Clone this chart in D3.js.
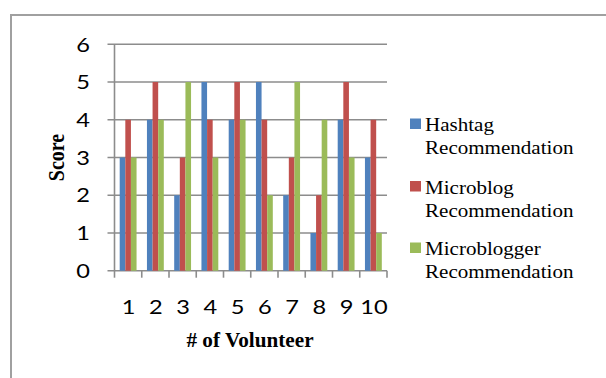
<!DOCTYPE html>
<html><head><meta charset="utf-8">
<script src="https://cdn.jsdelivr.net/npm/d3@7"></script>
<style>html,body{margin:0;padding:0;background:#fff;}svg{display:block;}</style>
</head><body>
<svg id="c" width="606" height="378"></svg>
<script>
const volunteers = ["1","2","3","4","5","6","7","8","9","10"];
const seriesNames = ["Hashtag Recommendation","Microblog Recommendation","Microblogger Recommendation"];
const hashtag = [3,4,2,5,4,5,2,1,4,3];
const microblog = [4,5,3,4,5,4,3,2,5,4];
const microblogger = [3,4,5,3,4,2,5,4,3,1];
const yTicks = [0,1,2,3,4,5,6];
const colors = ["#4F81BD","#C0504D","#9BBB59"];
const seriesValues = [hashtag, microblog, microblogger];

const svg = d3.select("#c");
svg.append("rect").attr("x",11).attr("y",15).attr("width",620).attr("height",400)
  .attr("fill","none").attr("stroke","#a0a0a0").attr("stroke-width",2);

const L = 114.5, R = 387, T = 44.3, B = 270.7;
const x0 = d3.scaleBand().domain(volunteers).range([L,R]).padding(0);
const bw = x0.bandwidth();
const x1 = d3.scaleBand().domain(d3.range(3)).range([5.2, bw-5.2]).padding(0);
const y = d3.scaleLinear().domain([0,6]).range([B,T]);

const gridC = "#8c8c8c";
svg.append("g").selectAll("line").data(yTicks).join("line")
  .attr("x1",L-7).attr("x2",R).attr("y1",d=>y(d)).attr("y2",d=>y(d))
  .attr("stroke",gridC).attr("stroke-width",1.6);

const rows = volunteers.map((v,i)=>({v, vals: seriesValues.map(s=>s[i])}));
const g = svg.append("g");
rows.forEach(r=>{
  r.vals.forEach((val,si)=>{
    g.append("rect")
      .attr("x", x0(r.v)+x1(si))
      .attr("width", x1.bandwidth())
      .attr("y", y(val))
      .attr("height", y(0)-y(val))
      .attr("fill", colors[si]);
  });
});

svg.append("line").attr("x1",L).attr("x2",L).attr("y1",T).attr("y2",B)
  .attr("stroke",gridC).attr("stroke-width",1.6);
const xt = volunteers.map(v=>x0(v)).concat([R]);
svg.append("g").selectAll("line").data(xt).join("line")
  .attr("x1",d=>d).attr("x2",d=>d).attr("y1",B).attr("y2",B+7)
  .attr("stroke",gridC).attr("stroke-width",1.6);

const numFont = "Lato, 'Open Sans', sans-serif";
svg.append("g").selectAll("text").data(yTicks).join("text")
  .attr("transform",d=>`translate(90,${y(d)}) scale(1.18,1)`).attr("dy","0.36em")
  .attr("text-anchor","end").attr("font-family",numFont)
  .attr("font-size",20).attr("fill","#000").text(d=>d);

svg.append("g").selectAll("text").data(volunteers).join("text")
  .attr("transform",d=>`translate(${x0(d)+bw/2+0.5},314) scale(1.18,1)`)
  .attr("text-anchor","middle").attr("font-family",numFont)
  .attr("font-size",20).attr("fill","#000").text(d=>d);

const serif = "'Liberation Serif','Times New Roman',serif";
svg.append("text").attr("transform","translate(64,157.5) rotate(-90) scale(1,1.15)")
  .attr("text-anchor","middle").attr("font-family",serif)
  .attr("font-weight","bold").attr("font-size",20).text("Score");
svg.append("text").attr("transform","translate(250,347) scale(1.06,1)")
  .attr("text-anchor","middle").attr("font-family",serif)
  .attr("font-weight","bold").attr("font-size",20).text("# of Volunteer");

const legY = [131, 193.5, 255];
seriesNames.forEach((name,i)=>{
  const lg = svg.append("g");
  lg.append("rect").attr("x",410).attr("y",legY[i]-12.5).attr("width",11).attr("height",10.5).attr("fill",colors[i]);
  const parts = name.split(" ");
  parts.forEach((p,j)=>{
    lg.append("text").attr("transform",`translate(425,${legY[i]+j*23.3}) scale(1.08,1)`)
      .attr("font-family",serif)
      .attr("font-size",19.5).attr("fill","#000").text(p);
  });
});
</script>
</body></html>
